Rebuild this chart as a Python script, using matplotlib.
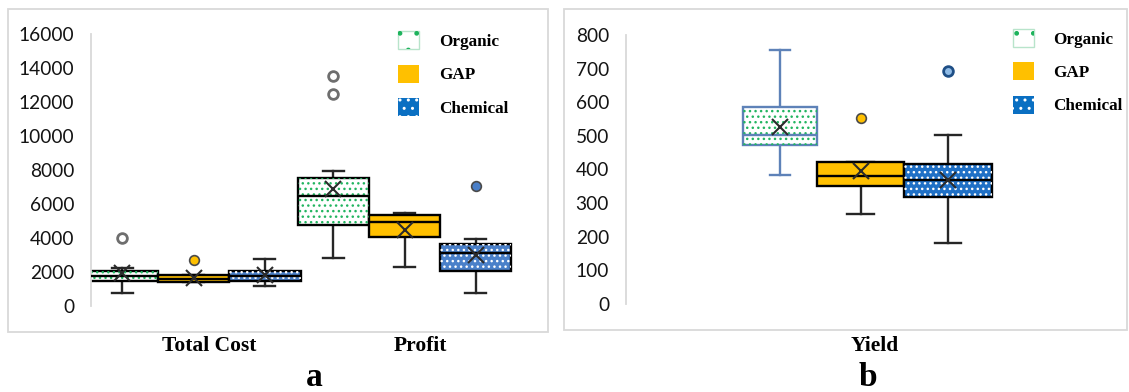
import matplotlib
matplotlib.use("Agg")
import matplotlib.pyplot as plt
import matplotlib.transforms as mtransforms
from matplotlib.patches import Patch, PathPatch, Rectangle
from matplotlib.legend_handler import HandlerTuple

# ---------------------------------------------------------------- data
systems = ["Organic", "GAP", "Chemical"]
categories_a = ["Total Cost", "Profit"]
category_b = "Yield"

# Panel a: rows = Total Cost, Profit; columns = Organic, GAP, Chemical
a_whislo = [[780, 1410, 1180], [2800, 2280, 750]]
a_q1 = [[1470, 1410, 1490], [4770, 4080, 2060]]
a_median = [[1760, 1600, 1780], [6490, 4960, 3100]]
a_q3 = [[2080, 1820, 2080], [7510, 5350, 3630]]
a_whishi = [[2220, 1820, 2780], [7960, 5490, 3960]]
a_mean = [[1940, 1660, 1800], [6860, 4470, 3000]]
a_outliers = [[[3980], [2690], []], [[12470, 13530], [], [7080]]]
a_yticks = list(range(0, 16001, 2000))

# Panel b: Yield, columns = Organic, GAP, Chemical
b_whislo = [385, 267, 180]
b_q1 = [472, 352, 319]
b_median = [503, 381, 369]
b_q3 = [585, 422, 416]
b_whishi = [755, 422, 504]
b_mean = [525, 396, 369]
b_outliers = [[], [554], [694]]
b_yticks = list(range(0, 801, 100))

# ---------------------------------------------------------------- style
W, H, DPI = 1129, 392, 100
plt.rcParams["font.family"] = ["Lato", "DejaVu Sans"]
plt.rcParams["hatch.linewidth"] = 1.0

DOTS = {"Organic": "#22B560", "GAP": None, "Chemical": "white"}
SERIF = dict(family="Liberation Serif", weight="bold")

fig = plt.figure(figsize=(W / DPI, H / DPI), dpi=DPI)
fig.patch.set_facecolor("white")


def fx(px):
    return px / W


def fy(py):
    return 1 - py / H


# light grey chart-area frames
for x0, x1, y0, y1 in [(8, 547.5, 9, 331.7), (564, 1127, 9, 330)]:
    fig.patches.append(Rectangle((fx(x0), fy(y1)), fx(x1) - fx(x0), fy(y0) - fy(y1),
                                 transform=fig.transFigure, facecolor="white",
                                 edgecolor="#d9d9d9", lw=1.3, zorder=-5))


def setup_axis(ax, ymax, yticks):
    ax.set_ylim(0, ymax)
    ax.set_yticks(yticks)
    ax.set_xticks([])
    ax.patch.set_visible(False)
    for s in ("top", "right", "bottom"):
        ax.spines[s].set_visible(False)
    ax.spines["left"].set_color("#d9d9d9")
    ax.spines["left"].set_linewidth(1.3)
    ax.tick_params(axis="y", length=0, pad=12.2, labelsize=13.8, labelcolor="#141414")


def draw_boxes(ax, stats, positions, widths, capwidths, edges, faces, flier_styles):
    bp = ax.bxp(stats, positions=positions, widths=widths, capwidths=capwidths,
                patch_artist=True, showmeans=True, showfliers=True, manage_ticks=False,
                meanprops=dict(marker="x", markersize=12, markeredgecolor="#2b2b2b",
                               markeredgewidth=1.5))
    for i, name in enumerate(systems):
        ec = edges[i]
        box = bp["boxes"][i]
        box.set_facecolor(faces[i])
        box.set_edgecolor(ec)
        box.set_linewidth(1.7)
        box.set_zorder(2)
        if DOTS[name]:
            ax.add_patch(PathPatch(box.get_path(), transform=box.get_transform(),
                                   facecolor="none", edgecolor=DOTS[name], lw=0,
                                   hatch="...", zorder=2.1))
        bp["medians"][i].set(color=ec, linewidth=1.7, zorder=3)
        for ln in bp["whiskers"][2 * i:2 * i + 2] + bp["caps"][2 * i:2 * i + 2]:
            ln.set(color=ec if ec != "black" else "#262626", linewidth=1.7, zorder=1.5)
        bp["means"][i].set_zorder(4)
        bp["fliers"][i].set(**flier_styles[i], zorder=4)
    return bp


def make_stats(lo, q1, med, q3, hi, mean, out, names):
    return [dict(whislo=lo[k], q1=q1[k], med=med[k], q3=q3[k], whishi=hi[k],
                 mean=mean[k], fliers=out[k], label=names[k]) for k in range(len(names))]


def add_legend(ax, x_px, y_px):
    handles = [
        (Patch(facecolor="white", edgecolor="#b8e4cb", lw=1.0),
         Patch(facecolor="none", edgecolor="#1DB35C", lw=0, hatch=".")),
        Patch(facecolor="#FFC000", edgecolor="#FFC000", lw=0),
        (Patch(facecolor="#0A6FC2", edgecolor="#0A6FC2", lw=0),
         Patch(facecolor="none", edgecolor="white", lw=0, hatch="..")),
    ]
    ax.legend(handles, systems, handler_map={tuple: HandlerTuple(ndivide=1, pad=0)},
              loc="upper left", bbox_to_anchor=(fx(x_px), fy(y_px)),
              bbox_transform=fig.transFigure, frameon=False, borderpad=0,
              borderaxespad=0, handlelength=1.23, handleheight=1.23,
              handletextpad=1.17, labelspacing=0.85,
              prop=dict(family="Liberation Serif", weight="bold", size=12.3))


def category_label(ax, x, text, dx_px):
    tr = mtransforms.blended_transform_factory(ax.transData, fig.transFigure) + \
        mtransforms.ScaledTranslation(dx_px / DPI, 0, fig.dpi_scale_trans)
    ax.text(x, fy(346), text, transform=tr, ha="center", va="center",
            fontsize=15.5, clip_on=False, **SERIF)


# ---------------------------------------------------------------- panel a
ax_a = fig.add_axes([fx(91), fy(306), fx(548) - fx(91), fy(34) - fy(306)])
setup_axis(ax_a, 16000, a_yticks)
ax_a.set_xlim(-0.486, 1.68)

grey_ring = dict(marker="o", markersize=7, markerfacecolor="white",
                 markeredgecolor="#6e6e6e", markeredgewidth=2.0)
gold_dot = dict(marker="o", markersize=7, markerfacecolor="#FFC000",
                markeredgecolor="#4a4a4a", markeredgewidth=1.2)
blue_dot = dict(marker="o", markersize=7, markerfacecolor="#4A7FC8",
                markeredgecolor="#4a4a4a", markeredgewidth=1.2)

offsets = [-0.338, 0.0, 0.338]
for g, cat in enumerate(categories_a):
    stats = make_stats(a_whislo[g], a_q1[g], a_median[g], a_q3[g], a_whishi[g],
                       a_mean[g], a_outliers[g], systems)
    draw_boxes(ax_a, stats, [g + o for o in offsets], [0.338] * 3, [0.1] * 3,
               ["black"] * 3, ["white", "#FFC000", "#4A80C9"],
               [grey_ring, gold_dot, blue_dot])
    category_label(ax_a, g, cat, 16)

add_legend(ax_a, 398, 31.5)
fig.text(fx(314), fy(378), "a", ha="center", va="center", fontsize=24, **SERIF)

# ---------------------------------------------------------------- panel b
ax_b = fig.add_axes([fx(626), fy(304), fx(1127) - fx(626), fy(35) - fy(304)])
setup_axis(ax_b, 800, b_yticks)
ax_b.set_xlim(-2.684, 3.05)

b_stats = make_stats(b_whislo, b_q1, b_median, b_q3, b_whishi, b_mean, b_outliers, systems)
b_blue_ring = dict(marker="o", markersize=7, markerfacecolor="#8fbbe6",
                   markeredgecolor="#1f4f86", markeredgewidth=2.0)
draw_boxes(ax_b, b_stats, [-0.92, 0.0, 1.0], [0.84, 1.0, 1.0], [0.23, 0.3, 0.3],
           ["#5E82B8", "black", "black"], ["white", "#FFC000", "#1F70C6"],
           [grey_ring, gold_dot, b_blue_ring])
category_label(ax_b, 0, category_b, 14)

add_legend(ax_b, 1012.5, 29.3)
fig.text(fx(868), fy(378), "b", ha="center", va="center", fontsize=24, **SERIF)

fig.savefig("out.png", dpi=DPI, facecolor="white")
